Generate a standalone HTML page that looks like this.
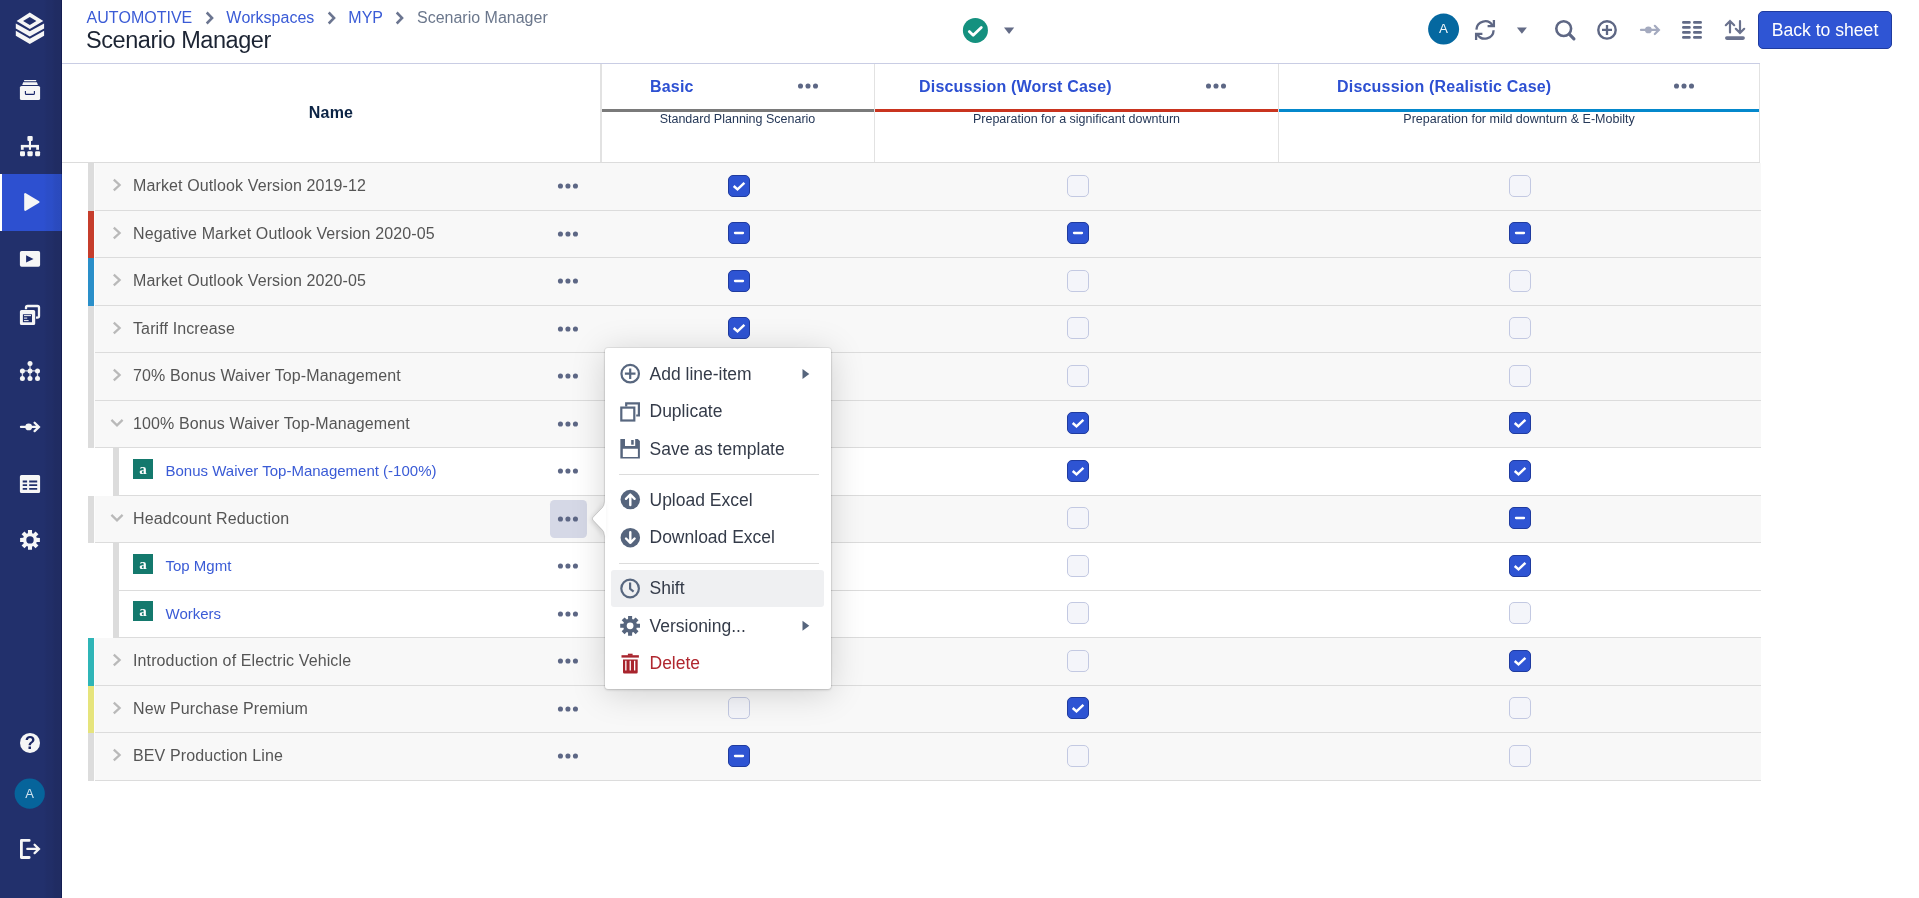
<!DOCTYPE html>
<html lang="en">
<head>
<meta charset="utf-8">
<title>Scenario Manager</title>
<style>
*{box-sizing:border-box;margin:0;padding:0}
html,body{width:1919px;height:898px;overflow:hidden;background:#fff;font-family:"Liberation Sans",Arial,sans-serif;color:#172b4d}
#sidebar{position:absolute;left:0;top:0;width:62px;height:898px;background:linear-gradient(90deg,#22306c 0,#22306c 44px,#212e68 47px,#212e67 52px,#202c63 55px,#202c62 60.5px,#141d52 61px,#141d52 62px)}
#sidebar .active{position:absolute;left:0;top:174px;width:62px;height:57px;background:linear-gradient(90deg,#2d50d0 0,#2d50d0 44px,#2c4ec9 47px,#2c4ec8 52px,#2b4bc0 55px,#2a4abd 60.5px,#1f3aa0 61px,#1f3aa0 62px)}
#sidebar .active:before{content:"";position:absolute;left:0;top:0;width:2px;height:57px;background:#fff}
#sidebar svg{position:absolute;overflow:visible}
#topbar{position:absolute;left:62px;top:0;width:1698px;height:64px;border-bottom:1px solid #c9cde4}
.crumbs{position:absolute;left:24.5px;top:8px;font-size:16px;line-height:19px;white-space:nowrap;color:#6b778c;font-kerning:none}
.crumbs a{color:#3a5bd6;text-decoration:none}
.crumbs svg{display:inline-block;vertical-align:-2px;margin:0 12.5px 0 12.5px}
.title{position:absolute;left:24px;top:26px;font-size:23.5px;letter-spacing:-.45px;line-height:28px;color:#1c2433;white-space:nowrap}
#thead{position:absolute;left:0;top:0;width:1919px;height:163px}
#thead:after{content:"";position:absolute;left:62px;top:162px;width:1698px;height:1px;background:#dcdcdc}
.vline{position:absolute;top:64px;width:1px;height:98px;background:#e2e2e2}
.hname{position:absolute;left:62px;width:538px;top:104px;text-align:center;font-weight:bold;font-size:16px;line-height:18px;color:#0b2344;letter-spacing:.2px}
.ctitle{position:absolute;top:78px;font-weight:bold;font-size:16px;line-height:18px;color:#2d50d2;letter-spacing:.2px;white-space:nowrap}
.cline{position:absolute;top:109px;height:3px}
.csub{position:absolute;top:111.5px;text-align:center;font-size:12.5px;line-height:14px;color:#253858;white-space:nowrap}
.dots{position:absolute;width:21px;height:5.2px}
.dots i{position:absolute;top:0;width:5.2px;height:5.2px;border-radius:50%;background:#5e6784}
.dots i:nth-child(1){left:0}.dots i:nth-child(2){left:7.5px}.dots i:nth-child(3){left:15px}
#tbody{position:absolute;left:0;top:0}
.row{position:absolute;left:88px;width:1673px;background:#f8f8f8;border-bottom:1px solid #dcdcdc}
.row.child{background:#fff}
.row .in{position:absolute;left:0;width:100%;height:47px}
.bar{position:absolute;left:0;top:0;width:6px;height:100%;box-shadow:1px 0 0 #fcfcfc}
.row .bar{height:calc(100% + 1px)}
.bar2{position:absolute;left:25px;top:0;width:6px;height:calc(100% + 1px);background:#dcdcdc}
.gap{position:absolute;left:0;top:0;width:25px;height:calc(100% + 1px);background:#fff}
.chev{position:absolute;left:24px;top:15px}
.chev.dn{left:22px;top:17.2px}
.nm{position:absolute;left:45px;top:14px;font-size:16px;line-height:18px;color:#555;white-space:nowrap;letter-spacing:.12px}
.lnk{position:absolute;left:77.5px;top:14px;font-size:15px;line-height:17px;color:#3a5bd6;white-space:nowrap}
.abadge{position:absolute;left:45px;top:11px;width:20px;height:20px;background:#14796d;color:#fff;font-family:"Liberation Serif",serif;font-weight:bold;font-size:15px;line-height:20px;text-align:center}
.cb{position:absolute;top:12px;width:22px;height:22px;border:1px solid #c3c9e2;border-radius:5px;background:#f4f5fa}
.cb.on{background:#2e54d3;border-color:#1f3b9f}
.cb svg{position:absolute;left:-1px;top:-1px}
.dotbg{position:absolute;left:462px;top:4px;width:37px;height:38px;border-radius:4.5px;background:#d5d8e6}
#tbicons{position:absolute;left:0;top:0}
#backbtn{position:absolute;left:1758px;top:11px;width:134px;height:38px;border-radius:5px;background:#2f55d4;border:1px solid #1f3b9f;color:#fff;font-size:17.6px;line-height:36px;text-align:center;white-space:nowrap}
#menu{position:absolute;left:604.5px;top:348px;width:226px;height:341px}
.mbox{position:absolute;left:0;top:0;width:226px;height:341px;background:#fff;border-radius:3px;box-shadow:0 0 0 1px rgba(0,0,0,.06),0 1px 3px rgba(0,0,0,.16),0 4px 34px rgba(0,0,0,.17)}
.marrow{position:absolute;left:-14.5px;top:152px;filter:drop-shadow(-2px 1px 2.5px rgba(0,0,0,.13))}
.mhl{position:absolute;left:6.5px;top:222px;width:213px;height:37px;border-radius:3px;background:#eff0f2}
.mdiv{position:absolute;left:14px;width:200px;height:1px;background:#dcdcdc;margin-top:-348px}
.mi{position:absolute;left:45px;font-size:17.5px;line-height:20px;color:#343b49;white-space:nowrap}
.mi.red{color:#b0272f}
.micons{position:absolute;left:-.5px;top:0}
.sh{margin-top:1px}
#dots{position:absolute;left:0;top:0}
#wrap{position:absolute;left:0;top:0;width:1919px;height:898px;will-change:transform}

</style>
</head>
<body>
<div id="wrap">
<div id="sidebar">
  <div class="active"></div>
  <svg width="62" height="898" viewBox="0 0 62 898" style="left:0;top:0">
    <g fill="#f6f6f6">
      <!-- logo -->
      <path fill-rule="evenodd" d="M29.8 12.6 L43.3 20.9 L29.8 29 L16.6 20.9 Z M29.8 16.9 L36.4 20.9 L29.8 24.9 L23.1 20.9 Z"/>
      <path d="M15.8 23.5 L29.8 31.3 L44.1 23.5 V28.5 L29.8 36.4 L15.8 28.5 Z"/>
      <path d="M15.8 30.8 L29.8 38.7 L44.1 30.8 V35.8 L29.8 44 L15.8 35.8 Z"/>
      <!-- drawer -->
      <rect x="24" y="80" width="12.3" height="1.2" rx=".4"/>
      <path d="M23.2 82.2 H36.9 L37.9 85 H22.2 Z"/>
      <rect x="19.9" y="86" width="20.2" height="14.1" rx="1.6"/>
      <!-- sitemap -->
      <rect x="27.4" y="136" width="5.3" height="5" rx="1.1"/>
      <rect x="28.9" y="140.5" width="2.1" height="9.3"/>
      <rect x="20.9" y="144.9" width="18.1" height="2.5"/>
      <rect x="20.9" y="145" width="2.8" height="4.8"/>
      <rect x="36.2" y="145" width="2.8" height="4.8"/>
      <rect x="20" y="151.2" width="5" height="5" rx="1.1"/>
      <rect x="27.4" y="151.2" width="5.3" height="5" rx="1.1"/>
      <rect x="35.1" y="151.2" width="5" height="5" rx="1.1"/>
      <!-- play active -->
      <path d="M25.8 193.2 L39.2 201.2 Q40 202 39.2 202.8 L25.8 210.8 Q24.3 211.4 24.2 209.8 V194.2 Q24.3 192.6 25.8 193.2 Z"/>
      <!-- play rect -->
      <rect x="19.9" y="251.1" width="20.2" height="15.6" rx="1.7"/>
      <!-- windows -->
      <path fill-rule="evenodd" d="M21.5 309.9 H33.6 Q35.2 309.9 35.2 311.5 V323.5 Q35.2 325.1 33.6 325.1 H21.5 Q19.9 325.1 19.9 323.5 V311.5 Q19.9 309.9 21.5 309.9 Z M22.9 314.2 V322.2 H32 V314.2 Z"/>
      <rect x="24" y="315.1" width="7" height="1"/>
      <rect x="24" y="317.6" width="3.2" height="1"/>
      <rect x="24" y="320.1" width="4.6" height="1"/>
      <!-- gear -->
      <path fill-rule="evenodd" d="M27.95 533.21 L27.99 530.00 L32.01 530.00 L32.05 533.21 L33.29 533.72 L35.57 531.48 L38.42 534.33 L36.18 536.61 L36.69 537.85 L39.90 537.89 L39.90 541.91 L36.69 541.95 L36.18 543.19 L38.42 545.47 L35.57 548.32 L33.29 546.08 L32.05 546.59 L32.01 549.80 L27.99 549.80 L27.95 546.59 L26.71 546.08 L24.43 548.32 L21.58 545.47 L23.82 543.19 L23.31 541.95 L20.10 541.91 L20.10 537.89 L23.31 537.85 L23.82 536.61 L21.58 534.33 L24.43 531.48 L26.71 533.72 Z M30.00 536.20 A3.7 3.7 0 1 0 30.00 543.60 A3.7 3.7 0 1 0 30.00 536.20 Z"/>
      <!-- help -->
      <circle cx="30" cy="742.9" r="10"/>
    </g>
    <!-- drawer handle -->
    <path d="M25.4 91 V93.4 Q25.4 94.4 26.4 94.4 H33.4 Q34.4 94.4 34.4 93.4 V91" fill="none" stroke="#17246a" stroke-width="1.1"/>
    <!-- play rect triangle -->
    <path d="M26.1 255.3 L33.5 258.9 L26.1 262.6 Z" fill="#1c2a6b"/>
    <!-- windows back -->
    <path d="M26 309.2 V307.6 Q26 306 27.6 306 H37.4 Q39 306 39 307.6 V316.1 Q39 317.7 37.4 317.7 H36" fill="none" stroke="#f6f6f6" stroke-width="2.3"/>
    <!-- nodes -->
    <g stroke="#f6f6f6" stroke-opacity=".8" stroke-width="1.3" fill="none">
      <path d="M30 363.5 V378.5 M22.4 370.9 H37.5 M22.4 370.9 V378.5 M37.5 370.9 V378.5"/>
    </g>
    <g fill="#f6f6f6">
      <circle cx="30" cy="363.4" r="2.5"/><circle cx="22.4" cy="370.9" r="2.5"/><circle cx="30" cy="370.9" r="2.5"/><circle cx="37.5" cy="370.9" r="2.5"/>
      <circle cx="22.4" cy="378.5" r="2.5"/><circle cx="30" cy="378.5" r="2.5"/><circle cx="37.5" cy="378.5" r="2.5"/>
      <circle cx="28.7" cy="426.9" r="3.4"/>
    </g>
    <!-- arrow dot -->
    <path d="M21 426.9 H38.5 M34.6 422.7 L38.9 426.9 L34.6 431.1" fill="none" stroke="#f6f6f6" stroke-width="2.3" stroke-linecap="round" stroke-linejoin="miter"/>
    <!-- table -->
    <path fill="#f6f6f6" fill-rule="evenodd" d="M21.5 474.9 H38.5 Q40.1 474.9 40.1 476.5 V491.4 Q40.1 493 38.5 493 H21.5 Q19.9 493 19.9 491.4 V476.5 Q19.9 474.9 21.5 474.9 Z M22.7 480.5 V482.5 H27.1 V480.5 Z M29.2 480.5 V482.5 H37.2 V480.5 Z M22.7 484.2 V486.1 H27.1 V484.2 Z M29.2 484.2 V486.1 H37.2 V484.2 Z M22.7 487.9 V489.8 H27.1 V487.9 Z M29.2 487.9 V489.8 H37.2 V487.9 Z"/>
    <!-- help ? -->
    <text x="30" y="749" text-anchor="middle" font-family="Liberation Sans, Arial, sans-serif" font-weight="bold" font-size="17.5" fill="#1c2764">?</text>
    <!-- avatar -->
    <circle cx="29.7" cy="793.6" r="15.1" fill="#06649b"/>
    <text x="29.6" y="798.2" text-anchor="middle" font-family="Liberation Sans, Arial, sans-serif" font-size="13" fill="#cfe2ee">A</text>
    <!-- signout -->
    <path d="M29.2 840.4 H21.4 V857.5 H29.2" fill="none" stroke="#f6f6f6" stroke-width="2.8" stroke-linecap="round" stroke-linejoin="round"/>
    <path d="M27.3 848.9 H38.5 M34.6 844.7 L38.9 848.9 L34.6 853.1" fill="none" stroke="#f6f6f6" stroke-width="2.3" stroke-linecap="round"/>
  </svg>
</div>

<div id="topbar">
  <div class="crumbs"><a>AUTOMOTIVE</a><svg width="9" height="14" viewBox="0 0 9 14"><path d="M1.7 1.5 L7.1 7 L1.7 12.5" fill="none" stroke="#6b7590" stroke-width="2.5"/></svg><a>Workspaces</a><svg width="9" height="14" viewBox="0 0 9 14"><path d="M1.7 1.5 L7.1 7 L1.7 12.5" fill="none" stroke="#6b7590" stroke-width="2.5"/></svg><a>MYP</a><svg width="9" height="14" viewBox="0 0 9 14"><path d="M1.7 1.5 L7.1 7 L1.7 12.5" fill="none" stroke="#6b7590" stroke-width="2.5"/></svg><span>Scenario Manager</span></div>
  <div class="title">Scenario Manager</div>
</div>
<svg id="tbicons" width="1919" height="64" viewBox="0 0 1919 64">
  <!-- status -->
  <circle cx="975.4" cy="30.4" r="12.5" fill="#14917f"/>
  <path d="M969.3 31.6 L973.2 35.3 L981.3 27.4" fill="none" stroke="#fff" stroke-width="2.8" stroke-linecap="round" stroke-linejoin="round"/>
  <path d="M1004 27.4 H1014.2 L1009.1 33.9 Z" fill="#636b86"/>
  <!-- avatar -->
  <circle cx="1443.6" cy="29.1" r="15.5" fill="#0568a0"/>
  <text x="1443.4" y="33.4" text-anchor="middle" font-family="Liberation Sans, Arial, sans-serif" font-size="13.4" fill="#f2f7fa">A</text>
  <!-- refresh -->
  <g fill="none" stroke="#5e6784" stroke-width="2.3">
    <path d="M1476.4 29.6 A8.7 8.7 0 0 1 1492.6 25.6"/>
    <path d="M1493.9 20 V26.2 H1487.6"/>
    <path d="M1493.6 30.2 A8.7 8.7 0 0 1 1477.4 34.3"/>
    <path d="M1476.1 40 V33.8 H1482.4"/>
  </g>
  <path d="M1516.9 27.5 H1526.9 L1521.9 33.7 Z" fill="#636b86"/>
  <!-- search -->
  <circle cx="1563.7" cy="28.6" r="7.4" fill="none" stroke="#5e6784" stroke-width="2.6"/>
  <path d="M1569.3 34.2 L1573.9 38.8" fill="none" stroke="#5e6784" stroke-width="3.2" stroke-linecap="round"/>
  <!-- plus circle -->
  <circle cx="1607" cy="29.9" r="8.7" fill="none" stroke="#5e6784" stroke-width="2.4"/>
  <path d="M1602 29.9 H1612 M1607 24.9 V34.9" fill="none" stroke="#5e6784" stroke-width="2.3"/>
  <!-- arrow dot disabled -->
  <g stroke="#a4aabf" fill="none" stroke-width="2.2" stroke-linecap="round">
    <path d="M1641 29.9 H1658.5 M1654.8 25.8 L1658.9 29.9 L1654.8 34"/>
  </g>
  <circle cx="1648.4" cy="29.9" r="3.4" fill="#a4aabf"/>
  <!-- columns -->
  <g stroke="#626b87" stroke-width="2.8" stroke-linecap="round" fill="none">
    <path d="M1683.4 22.4 H1689.4 M1694.4 22.4 H1700.6 M1683.4 27.4 H1689.4 M1694.4 27.4 H1700.6 M1683.4 32.4 H1689.4 M1694.4 32.4 H1700.6 M1683.4 37.4 H1689.4 M1694.4 37.4 H1700.6"/>
  </g>
  <!-- sort -->
  <g stroke="#6a728e" fill="none" stroke-linecap="round">
    <path d="M1730 21.2 V32.4 M1725.8 25.2 L1730 21 L1734.2 25.2 M1740 21.2 V32.4 M1735.8 28.8 L1740 33 L1744.2 28.8" stroke-width="2.2"/>
    <path d="M1726.8 38.1 H1743.1" stroke-width="3.6"/>
  </g>
</svg>
<div id="backbtn">Back to sheet</div>

<div id="thead">
<div class="vline" style="left:600px;width:2px"></div><div class="vline" style="left:874px"></div><div class="vline" style="left:1278px"></div><div class="vline" style="left:1759px"></div>
<div class="hname">Name</div>
<div class="ctitle" style="left:650px">Basic</div>
<div class="cline" style="left:602px;width:272px;background:#7a7a7a"></div>
<div class="csub" style="left:601px;width:273px">Standard Planning Scenario</div>
<div class="ctitle" style="left:919px">Discussion (Worst Case)</div>
<div class="cline" style="left:875px;width:403px;background:#c9341f"></div>
<div class="csub" style="left:875px;width:403px">Preparation for a significant downturn</div>
<div class="ctitle" style="left:1337px">Discussion (Realistic Case)</div>
<div class="cline" style="left:1279px;width:480px;background:#0488cc"></div>
<div class="csub" style="left:1279px;width:480px">Preparation for mild downturn &amp; E-Mobilty</div>
</div>
<div id="tbody">
<div class="row" style="top:163px;height:48px">
<div class="in" style="top:0px">
<svg class="chev" width="10" height="14" viewBox="0 0 10 14"><path d="M1.8 1.6 L7.6 7 L1.8 12.4" fill="none" stroke="#b9b9b9" stroke-width="2.3"/></svg>
<span class="nm">Market Outlook Version 2019-12</span>
<span class="cb on" style="left:640px"><svg width="22" height="22" viewBox="0 0 22 22"><path d="M5.7 11 L9.5 14.4 L16.4 7.9" fill="none" stroke="#fff" stroke-width="2.5"/></svg></span>
<span class="cb" style="left:979px"></span>
<span class="cb" style="left:1421px"></span>
</div>
<span class="bar" style="background:#dcdcdc"></span>
</div>
<div class="row" style="top:211px;height:47px">
<div class="in" style="top:-1px">
<svg class="chev sh" width="10" height="14" viewBox="0 0 10 14"><path d="M1.8 1.6 L7.6 7 L1.8 12.4" fill="none" stroke="#b9b9b9" stroke-width="2.3"/></svg>
<span class="nm sh">Negative Market Outlook Version 2020-05</span>
<span class="cb on" style="left:640px"><svg width="22" height="22" viewBox="0 0 22 22"><path d="M7 11 H15" fill="none" stroke="#fff" stroke-width="2.3" stroke-linecap="round"/></svg></span>
<span class="cb on" style="left:979px"><svg width="22" height="22" viewBox="0 0 22 22"><path d="M7 11 H15" fill="none" stroke="#fff" stroke-width="2.3" stroke-linecap="round"/></svg></span>
<span class="cb on" style="left:1421px"><svg width="22" height="22" viewBox="0 0 22 22"><path d="M7 11 H15" fill="none" stroke="#fff" stroke-width="2.3" stroke-linecap="round"/></svg></span>
</div>
<span class="bar" style="background:#c63d2c"></span>
</div>
<div class="row" style="top:258px;height:48px">
<div class="in" style="top:0px">
<svg class="chev" width="10" height="14" viewBox="0 0 10 14"><path d="M1.8 1.6 L7.6 7 L1.8 12.4" fill="none" stroke="#b9b9b9" stroke-width="2.3"/></svg>
<span class="nm">Market Outlook Version 2020-05</span>
<span class="cb on" style="left:640px"><svg width="22" height="22" viewBox="0 0 22 22"><path d="M7 11 H15" fill="none" stroke="#fff" stroke-width="2.3" stroke-linecap="round"/></svg></span>
<span class="cb" style="left:979px"></span>
<span class="cb" style="left:1421px"></span>
</div>
<span class="bar" style="background:#2a8fc9"></span>
</div>
<div class="row" style="top:306px;height:47px">
<div class="in" style="top:-1px">
<svg class="chev sh" width="10" height="14" viewBox="0 0 10 14"><path d="M1.8 1.6 L7.6 7 L1.8 12.4" fill="none" stroke="#b9b9b9" stroke-width="2.3"/></svg>
<span class="nm sh">Tariff Increase</span>
<span class="cb on" style="left:640px"><svg width="22" height="22" viewBox="0 0 22 22"><path d="M5.7 11 L9.5 14.4 L16.4 7.9" fill="none" stroke="#fff" stroke-width="2.5"/></svg></span>
<span class="cb" style="left:979px"></span>
<span class="cb" style="left:1421px"></span>
</div>
<span class="bar" style="background:#dcdcdc"></span>
</div>
<div class="row" style="top:353px;height:48px">
<div class="in" style="top:0px">
<svg class="chev" width="10" height="14" viewBox="0 0 10 14"><path d="M1.8 1.6 L7.6 7 L1.8 12.4" fill="none" stroke="#b9b9b9" stroke-width="2.3"/></svg>
<span class="nm">70% Bonus Waiver Top-Management</span>
<span class="cb" style="left:640px"></span>
<span class="cb" style="left:979px"></span>
<span class="cb" style="left:1421px"></span>
</div>
<span class="bar" style="background:#dcdcdc"></span>
</div>
<div class="row" style="top:401px;height:47px">
<div class="in" style="top:-1px">
<svg class="chev dn sh" width="14" height="10" viewBox="0 0 14 10"><path d="M1.4 1.9 L7 7.3 L12.6 1.9" fill="none" stroke="#b9b9b9" stroke-width="2.3"/></svg>
<span class="nm sh">100% Bonus Waiver Top-Management</span>
<span class="cb" style="left:640px"></span>
<span class="cb on" style="left:979px"><svg width="22" height="22" viewBox="0 0 22 22"><path d="M5.7 11 L9.5 14.4 L16.4 7.9" fill="none" stroke="#fff" stroke-width="2.5"/></svg></span>
<span class="cb on" style="left:1421px"><svg width="22" height="22" viewBox="0 0 22 22"><path d="M5.7 11 L9.5 14.4 L16.4 7.9" fill="none" stroke="#fff" stroke-width="2.5"/></svg></span>
</div>
<span class="bar" style="background:#dcdcdc"></span>
</div>
<div class="row child" style="top:448px;height:48px">
<div class="in" style="top:0px">
<span class="abadge">a</span>
<a class="lnk">Bonus Waiver Top-Management (-100%)</a>
<span class="cb" style="left:640px"></span>
<span class="cb on" style="left:979px"><svg width="22" height="22" viewBox="0 0 22 22"><path d="M5.7 11 L9.5 14.4 L16.4 7.9" fill="none" stroke="#fff" stroke-width="2.5"/></svg></span>
<span class="cb on" style="left:1421px"><svg width="22" height="22" viewBox="0 0 22 22"><path d="M5.7 11 L9.5 14.4 L16.4 7.9" fill="none" stroke="#fff" stroke-width="2.5"/></svg></span>
</div>
<span class="gap"></span><span class="bar2"></span>
</div>
<div class="row" style="top:496px;height:47px">
<div class="in" style="top:-1px">
<svg class="chev dn sh" width="14" height="10" viewBox="0 0 14 10"><path d="M1.4 1.9 L7 7.3 L12.6 1.9" fill="none" stroke="#b9b9b9" stroke-width="2.3"/></svg>
<span class="nm sh">Headcount Reduction</span>
<span class="dotbg sh"></span>
<span class="cb" style="left:640px"></span>
<span class="cb" style="left:979px"></span>
<span class="cb on" style="left:1421px"><svg width="22" height="22" viewBox="0 0 22 22"><path d="M7 11 H15" fill="none" stroke="#fff" stroke-width="2.3" stroke-linecap="round"/></svg></span>
</div>
<span class="bar" style="background:#dcdcdc"></span>
</div>
<div class="row child" style="top:543px;height:48px">
<div class="in" style="top:0px">
<span class="abadge">a</span>
<a class="lnk">Top Mgmt</a>
<span class="cb" style="left:640px"></span>
<span class="cb" style="left:979px"></span>
<span class="cb on" style="left:1421px"><svg width="22" height="22" viewBox="0 0 22 22"><path d="M5.7 11 L9.5 14.4 L16.4 7.9" fill="none" stroke="#fff" stroke-width="2.5"/></svg></span>
</div>
<span class="gap"></span><span class="bar2"></span>
</div>
<div class="row child" style="top:591px;height:47px">
<div class="in" style="top:-1px">
<span class="abadge">a</span>
<a class="lnk sh">Workers</a>
<span class="cb" style="left:640px"></span>
<span class="cb" style="left:979px"></span>
<span class="cb" style="left:1421px"></span>
</div>
<span class="gap"></span><span class="bar2"></span>
</div>
<div class="row" style="top:638px;height:48px">
<div class="in" style="top:0px">
<svg class="chev" width="10" height="14" viewBox="0 0 10 14"><path d="M1.8 1.6 L7.6 7 L1.8 12.4" fill="none" stroke="#b9b9b9" stroke-width="2.3"/></svg>
<span class="nm">Introduction of Electric Vehicle</span>
<span class="cb" style="left:640px"></span>
<span class="cb" style="left:979px"></span>
<span class="cb on" style="left:1421px"><svg width="22" height="22" viewBox="0 0 22 22"><path d="M5.7 11 L9.5 14.4 L16.4 7.9" fill="none" stroke="#fff" stroke-width="2.5"/></svg></span>
</div>
<span class="bar" style="background:#2fb5b7"></span>
</div>
<div class="row" style="top:686px;height:47px">
<div class="in" style="top:-1px">
<svg class="chev sh" width="10" height="14" viewBox="0 0 10 14"><path d="M1.8 1.6 L7.6 7 L1.8 12.4" fill="none" stroke="#b9b9b9" stroke-width="2.3"/></svg>
<span class="nm sh">New Purchase Premium</span>
<span class="cb" style="left:640px"></span>
<span class="cb on" style="left:979px"><svg width="22" height="22" viewBox="0 0 22 22"><path d="M5.7 11 L9.5 14.4 L16.4 7.9" fill="none" stroke="#fff" stroke-width="2.5"/></svg></span>
<span class="cb" style="left:1421px"></span>
</div>
<span class="bar" style="background:#e6e47c"></span>
</div>
<div class="row" style="top:733px;height:48px">
<div class="in" style="top:0px">
<svg class="chev" width="10" height="14" viewBox="0 0 10 14"><path d="M1.8 1.6 L7.6 7 L1.8 12.4" fill="none" stroke="#b9b9b9" stroke-width="2.3"/></svg>
<span class="nm">BEV Production Line</span>
<span class="cb on" style="left:640px"><svg width="22" height="22" viewBox="0 0 22 22"><path d="M7 11 H15" fill="none" stroke="#fff" stroke-width="2.3" stroke-linecap="round"/></svg></span>
<span class="cb" style="left:979px"></span>
<span class="cb" style="left:1421px"></span>
</div>
<span class="bar" style="background:#dcdcdc"></span>
</div>
</div>
<svg id="dots" width="1919" height="898" viewBox="0 0 1919 898"><g fill="#5d6785"><circle cx="800.50" cy="86.03" r="2.55"/><circle cx="808.00" cy="86.03" r="2.55"/><circle cx="815.50" cy="86.03" r="2.55"/><circle cx="1208.50" cy="86.03" r="2.55"/><circle cx="1216.00" cy="86.03" r="2.55"/><circle cx="1223.50" cy="86.03" r="2.55"/><circle cx="1676.50" cy="86.03" r="2.55"/><circle cx="1684.00" cy="86.03" r="2.55"/><circle cx="1691.50" cy="86.03" r="2.55"/><circle cx="560.45" cy="186.05" r="2.55"/><circle cx="567.95" cy="186.05" r="2.55"/><circle cx="575.45" cy="186.05" r="2.55"/><circle cx="560.45" cy="234.05" r="2.55"/><circle cx="567.95" cy="234.05" r="2.55"/><circle cx="575.45" cy="234.05" r="2.55"/><circle cx="560.45" cy="281.05" r="2.55"/><circle cx="567.95" cy="281.05" r="2.55"/><circle cx="575.45" cy="281.05" r="2.55"/><circle cx="560.45" cy="329.05" r="2.55"/><circle cx="567.95" cy="329.05" r="2.55"/><circle cx="575.45" cy="329.05" r="2.55"/><circle cx="560.45" cy="376.05" r="2.55"/><circle cx="567.95" cy="376.05" r="2.55"/><circle cx="575.45" cy="376.05" r="2.55"/><circle cx="560.45" cy="424.05" r="2.55"/><circle cx="567.95" cy="424.05" r="2.55"/><circle cx="575.45" cy="424.05" r="2.55"/><circle cx="560.45" cy="471.05" r="2.55"/><circle cx="567.95" cy="471.05" r="2.55"/><circle cx="575.45" cy="471.05" r="2.55"/><circle cx="560.45" cy="519.05" r="2.55"/><circle cx="567.95" cy="519.05" r="2.55"/><circle cx="575.45" cy="519.05" r="2.55"/><circle cx="560.45" cy="566.05" r="2.55"/><circle cx="567.95" cy="566.05" r="2.55"/><circle cx="575.45" cy="566.05" r="2.55"/><circle cx="560.45" cy="614.05" r="2.55"/><circle cx="567.95" cy="614.05" r="2.55"/><circle cx="575.45" cy="614.05" r="2.55"/><circle cx="560.45" cy="661.05" r="2.55"/><circle cx="567.95" cy="661.05" r="2.55"/><circle cx="575.45" cy="661.05" r="2.55"/><circle cx="560.45" cy="709.05" r="2.55"/><circle cx="567.95" cy="709.05" r="2.55"/><circle cx="575.45" cy="709.05" r="2.55"/><circle cx="560.45" cy="756.05" r="2.55"/><circle cx="567.95" cy="756.05" r="2.55"/><circle cx="575.45" cy="756.05" r="2.55"/></g></svg>
<div id="menu">
<div class="mbox"></div>
<svg class="marrow" width="16" height="38" viewBox="590 500 16 38"><path d="M606 501.5 L604.5 502 Q604.6 505.5 602.6 507.6 L593.3 517.2 Q591.8 518.7 593.3 520.3 L602.6 530 Q604.6 532 604.5 535.5 L606 536 Z" fill="#fff"/><path d="M604.3 502 Q604.4 505.5 602.4 507.6 L593.1 517.2 Q591.6 518.7 593.1 520.3 L602.4 530 Q604.4 532 604.3 535.5" fill="none" stroke="rgba(0,0,0,.13)" stroke-width="1"/></svg>
<div class="mhl"></div>
<div class="mdiv" style="top:474px"></div><div class="mdiv" style="top:563px"></div>
<div class="mi" style="top:15.9px">Add line-item</div>
<div class="mi" style="top:53.0px">Duplicate</div>
<div class="mi" style="top:90.5px">Save as template</div>
<div class="mi" style="top:141.7px">Upload Excel</div>
<div class="mi" style="top:179.1px">Download Excel</div>
<div class="mi" style="top:229.9px">Shift</div>
<div class="mi" style="top:267.7px">Versioning...</div>
<div class="mi red" style="top:305.0px">Delete</div>
<svg class="micons" width="227" height="341" viewBox="604 348 227 341">
<g fill="none" stroke="#58677f" stroke-width="2.2">
<circle cx="630.2" cy="373.7" r="8.75"/>
<path d="M624.9 373.7 H635.5 M630.2 368.4 V379"/>
<rect x="621.3" y="407.6" width="13" height="12.9"/>
<path d="M626.2 406.6 V403.3 H638.9 V415.5 H636.2"/>
<circle cx="630.1" cy="588.5" r="8.8"/>
<path d="M630.1 582.6 V588.8 L633.6 591.6"/>
</g>
<g fill="#56657d">
<path fill-rule="evenodd" d="M620.35 439 H637.8 L639.9 441.1 V458.4 H620.35 Z M622.8 448.7 V457.1 H637.9 V448.7 Z M625 438.9 V445.9 H635.2 V438.9 Z"/>
<rect x="631.2" y="440" width="2.5" height="4.7"/>
<circle cx="630.3" cy="499.6" r="9.75"/>
<circle cx="630.3" cy="537.7" r="9.75"/>
<path d="M802.5 369 L809.3 374 L802.5 379 Z"/>
<path d="M802.5 620.8 L809.3 625.8 L802.5 630.8 Z"/>
<path fill-rule="evenodd" d="M628.05 619.11 L628.09 615.90 L632.11 615.90 L632.15 619.11 L633.39 619.62 L635.67 617.38 L638.52 620.23 L636.28 622.51 L636.79 623.75 L640.00 623.79 L640.00 627.81 L636.79 627.85 L636.28 629.09 L638.52 631.37 L635.67 634.22 L633.39 631.98 L632.15 632.49 L632.11 635.70 L628.09 635.70 L628.05 632.49 L626.81 631.98 L624.53 634.22 L621.68 631.37 L623.92 629.09 L623.41 627.85 L620.20 627.81 L620.20 623.79 L623.41 623.75 L623.92 622.51 L621.68 620.23 L624.53 617.38 L626.81 619.62 Z M630.10 622.40 A3.4 3.4 0 1 0 630.10 629.20 A3.4 3.4 0 1 0 630.10 622.40 Z"/>
</g>
<g fill="none" stroke="#fff" stroke-width="2.4" stroke-linecap="round" stroke-linejoin="round">
<path d="M630.3 505 V494.6 M626 498.8 L630.3 494.5 L634.6 498.8"/>
<path d="M630.3 532.2 V542.7 M626 538.5 L630.3 542.8 L634.6 538.5"/>
</g>
<g fill="#a8242d">
<rect x="627.9" y="653.7" width="4.7" height="2"/>
<rect x="621.5" y="655.2" width="17.4" height="2.4"/>
<path fill-rule="evenodd" d="M623 659.4 H637.7 V672.3 Q637.7 673.6 636.4 673.6 H624.3 Q623 673.6 623 672.3 Z M625.2 660.8 V670.6 H626.5 V660.8 Z M629.6 660.8 V670.6 H630.9 V660.8 Z M634 660.8 V670.6 H635.3 V660.8 Z"/>
</g>
</svg>
</div>
</div>
</body>
</html>
